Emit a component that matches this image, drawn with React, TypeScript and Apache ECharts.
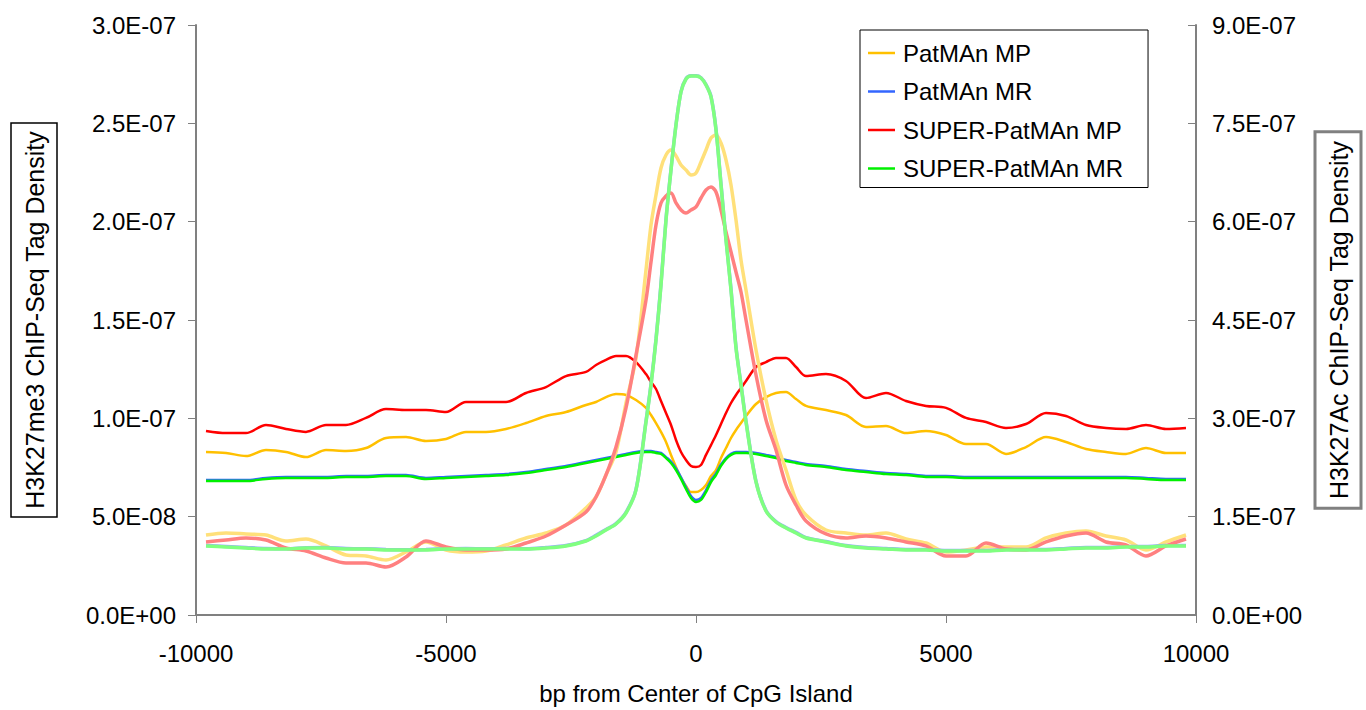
import React, { useEffect, useRef } from "react";
import * as echarts from "echarts";

// bp from center of CpG island
const bpFromCenter = [
  -9800, -9400, -9000, -8600, -8200, -7800, -7400, -7000, -6600, -6200, -5800, -5400, -5000, -4600, -4200, -3800, -3400, -3000, -2600, -2200,
  -2000, -1800, -1600, -1400, -1200,
  -1000, -900, -800, -700, -600, -500, -400, -300, -200, -100, 0, 100, 200, 300, 400, 500, 600, 700, 800, 900, 1000,
  1200, 1400, 1600, 1800, 2000,
  2200, 2600, 3000, 3400, 3800, 4200, 4600, 5000, 5400, 5800, 6200, 6600, 7000, 7400, 7800, 8200, 8600, 9000, 9400, 9800,
];

// H3K27me3 (left axis)
const me3PatmanMP = [
  8.29e-8, 8.24e-8, 8.08e-8, 8.39e-8, 8.29e-8, 8.03e-8, 8.39e-8, 8.34e-8, 8.49e-8, 9.0e-8, 9.05e-8, 8.85e-8, 8.95e-8, 9.31e-8, 9.31e-8, 9.46e-8, 9.76e-8, 10.12e-8, 10.32e-8, 10.68e-8,
  10.83e-8, 11.08e-8, 11.24e-8, 11.19e-8, 10.93e-8,
  10.53e-8, 10.17e-8, 9.76e-8, 9.31e-8, 8.8e-8, 8.14e-8, 7.53e-8, 6.97e-8, 6.56e-8, 6.25e-8, 6.25e-8, 6.36e-8, 6.61e-8, 7.07e-8, 7.37e-8, 7.98e-8, 8.49e-8, 9.0e-8, 9.41e-8, 9.76e-8, 10.12e-8,
  10.73e-8, 11.08e-8, 11.29e-8, 11.34e-8, 10.98e-8,
  10.63e-8, 10.42e-8, 10.17e-8, 9.56e-8, 9.61e-8, 9.25e-8, 9.36e-8, 9.15e-8, 8.69e-8, 8.69e-8, 8.19e-8, 8.54e-8, 9.05e-8, 8.8e-8, 8.44e-8, 8.29e-8, 8.19e-8, 8.49e-8, 8.24e-8, 8.24e-8,
];
const me3PatmanMR = [
  6.86e-8, 6.86e-8, 6.86e-8, 6.97e-8, 7.02e-8, 7.02e-8, 7.02e-8, 7.07e-8, 7.07e-8, 7.12e-8, 7.12e-8, 6.97e-8, 7.02e-8, 7.07e-8, 7.12e-8, 7.17e-8, 7.27e-8, 7.42e-8, 7.58e-8, 7.78e-8,
  7.88e-8, 7.98e-8, 8.08e-8, 8.19e-8, 8.29e-8,
  8.34e-8, 8.34e-8, 8.29e-8, 8.24e-8, 8.03e-8, 7.8e-8, 7.45e-8, 7.0e-8, 6.5e-8, 6.05e-8, 5.85e-8, 5.95e-8, 6.35e-8, 6.85e-8, 7.2e-8, 7.65e-8, 7.98e-8, 8.19e-8, 8.29e-8, 8.29e-8, 8.29e-8,
  8.24e-8, 8.14e-8, 8.03e-8, 7.88e-8, 7.78e-8,
  7.68e-8, 7.58e-8, 7.42e-8, 7.32e-8, 7.22e-8, 7.17e-8, 7.07e-8, 7.07e-8, 7.02e-8, 7.02e-8, 7.02e-8, 7.02e-8, 7.02e-8, 7.02e-8, 7.02e-8, 7.02e-8, 7.02e-8, 6.97e-8, 6.92e-8, 6.92e-8,
];
const me3SuperMP = [
  9.36e-8, 9.25e-8, 9.25e-8, 9.66e-8, 9.46e-8, 9.31e-8, 9.66e-8, 9.66e-8, 10.02e-8, 10.47e-8, 10.42e-8, 10.42e-8, 10.32e-8, 10.83e-8, 10.83e-8, 10.83e-8, 11.29e-8, 11.59e-8, 12.15e-8, 12.36e-8,
  12.71e-8, 12.97e-8, 13.17e-8, 13.17e-8, 12.86e-8,
  12.25e-8, 11.85e-8, 11.49e-8, 10.88e-8, 10.27e-8, 9.66e-8, 8.9e-8, 8.29e-8, 7.88e-8, 7.58e-8, 7.53e-8, 7.63e-8, 8.14e-8, 8.64e-8, 9.15e-8, 9.71e-8, 10.27e-8, 10.78e-8, 11.19e-8, 11.54e-8, 11.9e-8,
  12.61e-8, 12.86e-8, 13.07e-8, 13.07e-8, 12.61e-8,
  12.15e-8, 12.25e-8, 11.9e-8, 11.03e-8, 11.29e-8, 10.88e-8, 10.63e-8, 10.53e-8, 10.02e-8, 9.81e-8, 9.51e-8, 9.71e-8, 10.27e-8, 10.12e-8, 9.66e-8, 9.51e-8, 9.46e-8, 9.66e-8, 9.46e-8, 9.51e-8,
];
const me3SuperMR = [
  6.81e-8, 6.81e-8, 6.81e-8, 6.92e-8, 6.97e-8, 6.97e-8, 6.97e-8, 7.02e-8, 7.02e-8, 7.07e-8, 7.07e-8, 6.92e-8, 6.97e-8, 7.02e-8, 7.07e-8, 7.12e-8, 7.22e-8, 7.37e-8, 7.53e-8, 7.73e-8,
  7.83e-8, 7.93e-8, 8.03e-8, 8.14e-8, 8.24e-8,
  8.29e-8, 8.29e-8, 8.24e-8, 8.19e-8, 7.98e-8, 7.73e-8, 7.37e-8, 6.92e-8, 6.41e-8, 5.95e-8, 5.75e-8, 5.85e-8, 6.25e-8, 6.76e-8, 7.12e-8, 7.58e-8, 7.93e-8, 8.14e-8, 8.24e-8, 8.24e-8, 8.24e-8,
  8.19e-8, 8.08e-8, 7.98e-8, 7.83e-8, 7.73e-8,
  7.63e-8, 7.53e-8, 7.37e-8, 7.27e-8, 7.17e-8, 7.12e-8, 7.02e-8, 7.02e-8, 6.97e-8, 6.97e-8, 6.97e-8, 6.97e-8, 6.97e-8, 6.97e-8, 6.97e-8, 6.97e-8, 6.97e-8, 6.92e-8, 6.86e-8, 6.86e-8,
];

// H3K27Ac (right axis)
const acPatmanMP = [
  1.22e-7, 1.251e-7, 1.236e-7, 1.22e-7, 1.129e-7, 1.159e-7, 1.053e-7, 0.915e-7, 0.9e-7, 0.839e-7, 0.961e-7, 1.114e-7, 0.992e-7, 0.961e-7, 0.976e-7, 1.068e-7, 1.175e-7, 1.251e-7, 1.373e-7, 1.632e-7,
  1.8e-7, 2.136e-7, 2.486e-7, 3.234e-7, 3.92e-7,
  5.263e-7, 5.949e-7, 6.407e-7, 6.819e-7, 7.017e-7, 7.093e-7, 7.002e-7, 6.864e-7, 6.788e-7, 6.712e-7, 6.742e-7, 6.91e-7, 7.093e-7, 7.276e-7, 7.322e-7, 7.2e-7, 6.941e-7, 6.559e-7, 6.025e-7, 5.415e-7, 4.958e-7,
  4.042e-7, 3.28e-7, 2.669e-7, 2.212e-7, 1.754e-7,
  1.525e-7, 1.297e-7, 1.251e-7, 1.22e-7, 1.251e-7, 1.159e-7, 1.098e-7, 0.961e-7, 0.992e-7, 1.037e-7, 1.037e-7, 1.037e-7, 1.175e-7, 1.251e-7, 1.281e-7, 1.205e-7, 1.144e-7, 0.992e-7, 1.114e-7, 1.22e-7,
];
const acPatmanMR = [
  1.06e-7, 1.045e-7, 1.03e-7, 1.015e-7, 1.01e-7, 1.025e-7, 1.03e-7, 1.015e-7, 1.01e-7, 1.0e-7, 0.995e-7, 1.0e-7, 1.01e-7, 1.015e-7, 1.01e-7, 1.015e-7, 1.01e-7, 1.03e-7, 1.06e-7, 1.135e-7,
  1.215e-7, 1.305e-7, 1.395e-7, 1.565e-7, 1.915e-7,
  2.96e-7, 3.52e-7, 4.21e-7, 5.05e-7, 6.04e-7, 6.8e-7, 7.48e-7, 7.985e-7, 8.18e-7, 8.225e-7, 8.225e-7, 8.195e-7, 8.09e-7, 7.91e-7, 7.41e-7, 6.575e-7, 5.735e-7, 4.975e-7, 4.09e-7, 3.52e-7, 2.96e-7,
  2.04e-7, 1.595e-7, 1.425e-7, 1.335e-7, 1.26e-7,
  1.18e-7, 1.12e-7, 1.06e-7, 1.03e-7, 1.015e-7, 1.0e-7, 1.0e-7, 0.985e-7, 0.985e-7, 0.985e-7, 1.0e-7, 1.0e-7, 1.0e-7, 1.015e-7, 1.03e-7, 1.03e-7, 1.045e-7, 1.045e-7, 1.06e-7, 1.06e-7,
];
const acSuperMP = [
  1.114e-7, 1.144e-7, 1.175e-7, 1.144e-7, 1.022e-7, 0.976e-7, 0.869e-7, 0.793e-7, 0.793e-7, 0.732e-7, 0.885e-7, 1.129e-7, 1.037e-7, 0.992e-7, 0.992e-7, 1.007e-7, 1.098e-7, 1.205e-7, 1.373e-7, 1.571e-7,
  1.8e-7, 2.136e-7, 2.563e-7, 3.158e-7, 3.966e-7,
  4.805e-7, 5.385e-7, 5.949e-7, 6.285e-7, 6.392e-7, 6.437e-7, 6.285e-7, 6.178e-7, 6.132e-7, 6.178e-7, 6.224e-7, 6.361e-7, 6.483e-7, 6.529e-7, 6.453e-7, 6.178e-7, 5.842e-7, 5.537e-7, 5.232e-7, 4.927e-7, 4.5e-7,
  3.661e-7, 2.975e-7, 2.517e-7, 1.983e-7, 1.678e-7,
  1.434e-7, 1.236e-7, 1.175e-7, 1.205e-7, 1.175e-7, 1.114e-7, 1.053e-7, 0.9e-7, 0.9e-7, 1.098e-7, 1.007e-7, 0.992e-7, 1.114e-7, 1.205e-7, 1.251e-7, 1.114e-7, 1.068e-7, 0.9e-7, 1.053e-7, 1.159e-7,
];
const acSuperMR = [
  1.053e-7, 1.037e-7, 1.022e-7, 1.007e-7, 1.007e-7, 1.022e-7, 1.022e-7, 1.007e-7, 1.007e-7, 0.992e-7, 0.992e-7, 0.992e-7, 1.007e-7, 1.007e-7, 1.007e-7, 1.007e-7, 1.007e-7, 1.022e-7, 1.053e-7, 1.129e-7,
  1.205e-7, 1.297e-7, 1.388e-7, 1.556e-7, 1.907e-7,
  2.944e-7, 3.508e-7, 4.195e-7, 5.034e-7, 6.025e-7, 6.788e-7, 7.475e-7, 7.978e-7, 8.176e-7, 8.222e-7, 8.222e-7, 8.191e-7, 8.085e-7, 7.902e-7, 7.398e-7, 6.559e-7, 5.72e-7, 4.958e-7, 4.073e-7, 3.508e-7, 2.944e-7,
  2.029e-7, 1.586e-7, 1.419e-7, 1.327e-7, 1.251e-7,
  1.175e-7, 1.114e-7, 1.053e-7, 1.022e-7, 1.007e-7, 0.992e-7, 0.992e-7, 0.976e-7, 0.976e-7, 0.976e-7, 0.992e-7, 0.992e-7, 0.992e-7, 1.007e-7, 1.022e-7, 1.022e-7, 1.037e-7, 1.037e-7, 1.053e-7, 1.053e-7,
];

const legendNames = ["PatMAn MP", "PatMAn MR", "SUPER-PatMAn MP", "SUPER-PatMAn MR"];
const acNames = ["PatMAn MP (H3K27Ac)", "PatMAn MR (H3K27Ac)", "SUPER-PatMAn MP (H3K27Ac)", "SUPER-PatMAn MR (H3K27Ac)"];

const FONT = "'Liberation Sans', Arial, sans-serif";
const AXIS_GRAY = "#808080";

function sci(v: number): string {
  const [m, e] = v.toExponential(1).split("e");
  const n = parseInt(e, 10);
  const abs = Math.abs(n);
  return `${m}E${n < 0 ? "-" : "+"}${abs < 10 ? "0" + abs : abs}`;
}

function mkSeries(name: string, values: number[], color: string, yAxisIndex: number, width: number) {
  return {
    name,
    type: "line",
    yAxisIndex,
    data: bpFromCenter.map((x, i) => [x, values[i]]),
    symbol: "none",
    showSymbol: false,
    smooth: 0.3,
    silent: true,
    lineStyle: { color, width },
    itemStyle: { color },
  };
}

export default function App() {
  const ref = useRef<HTMLDivElement>(null);
  useEffect(() => {
    if (!ref.current) return;
    const chart = echarts.init(ref.current, undefined, { renderer: "svg" });
    chart.setOption({
      animation: false,
      backgroundColor: "#ffffff",
      textStyle: { fontFamily: FONT },
      grid: { left: 196, right: 170, top: 25, bottom: 95, containLabel: false, outerBoundsMode: "none" },
      legend: {
        data: legendNames,
        orient: "vertical",
        left: 860,
        top: 30,
        icon: "rect",
        itemWidth: 27,
        itemHeight: 2.5,
        itemGap: 14.5,
        padding: [11, 25, 7, 8],
        borderColor: "#000",
        borderWidth: 1,
        backgroundColor: "#fff",
        selectedMode: false,
        textStyle: { fontSize: 24, lineHeight: 24, color: "#000", fontFamily: FONT, padding: [0, 0, 0, 3] },
      },
      xAxis: {
        type: "value",
        min: -10000,
        max: 10000,
        interval: 5000,
        name: "bp from Center of CpG Island",
        nameLocation: "middle",
        nameGap: 66,
        nameTextStyle: { fontSize: 24, color: "#000", fontFamily: FONT },
        axisLine: { show: true, onZero: false, lineStyle: { color: AXIS_GRAY, width: 2 } },
        axisTick: { show: true, length: 8, lineStyle: { color: AXIS_GRAY, width: 1 } },
        axisLabel: { fontSize: 24, color: "#000", margin: 26, fontFamily: FONT, formatter: (v: number) => String(v) },
        splitLine: { show: false },
      },
      yAxis: [
        {
          type: "value",
          position: "left",
          min: 0,
          max: 3e-7,
          interval: 5e-8,
          name: "H3K27me3 ChIP-Seq Tag Density",
          nameLocation: "middle",
          nameRotate: 90,
          nameGap: 139,
          nameTextStyle: {
            fontSize: 25,
            color: "#000",
            fontFamily: FONT,
            borderColor: "#000",
            borderWidth: 1.5,
            padding: [11, 8, 10, 8],
          },
          axisLine: { show: true, onZero: false, lineStyle: { color: AXIS_GRAY, width: 2 } },
          axisTick: { show: true, length: 8, lineStyle: { color: AXIS_GRAY, width: 1 } },
          axisLabel: { fontSize: 24, color: "#000", margin: 20, fontFamily: FONT, formatter: (v: number) => sci(v) },
          splitLine: { show: false },
        },
        {
          type: "value",
          position: "right",
          min: 0,
          max: 9e-7,
          interval: 1.5e-7,
          name: "H3K27Ac ChIP-Seq Tag Density",
          nameLocation: "middle",
          nameRotate: 90,
          nameGap: 119,
          nameTextStyle: {
            fontSize: 25,
            color: "#000",
            fontFamily: FONT,
            borderColor: AXIS_GRAY,
            borderWidth: 3,
            padding: [11, 9, 10, 9],
          },
          axisLine: { show: true, onZero: false, lineStyle: { color: AXIS_GRAY, width: 2 } },
          axisTick: { show: true, inside: true, length: 8, lineStyle: { color: AXIS_GRAY, width: 1 } },
          axisLabel: { fontSize: 24, color: "#000", margin: 16, fontFamily: FONT, formatter: (v: number) => sci(v) },
          splitLine: { show: false },
        },
      ],
      series: [
        mkSeries(legendNames[0], me3PatmanMP, "#FFC000", 0, 2.5),
        mkSeries(legendNames[1], me3PatmanMR, "#3366FF", 0, 2.5),
        mkSeries(legendNames[2], me3SuperMP, "#FF0000", 0, 2.5),
        mkSeries(legendNames[3], me3SuperMR, "#00F000", 0, 2.5),
        mkSeries(acNames[0], acPatmanMP, "#FFE07A", 1, 3.5),
        mkSeries(acNames[1], acPatmanMR, "#99AAFF", 1, 3.5),
        mkSeries(acNames[2], acSuperMP, "#FF8080", 1, 3.5),
        mkSeries(acNames[3], acSuperMR, "#80FF80", 1, 3.5),
      ],
    });
    return () => chart.dispose();
  }, []);
  return (
    <div
      ref={ref}
      style={{ position: "absolute", left: 0, top: 0, width: 1366, height: 710, background: "#fff" }}
    />
  );
}
